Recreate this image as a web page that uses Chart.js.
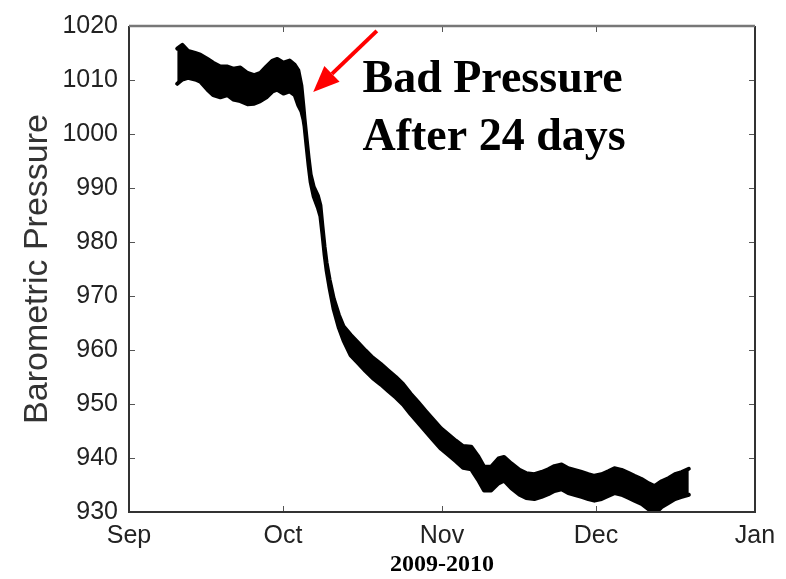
<!DOCTYPE html>
<html>
<head>
<meta charset="utf-8">
<script src="https://cdn.jsdelivr.net/npm/chart.js@4.4.1/dist/chart.umd.min.js"></script>
<style>
  html, body { margin: 0; padding: 0; background: #ffffff; }
  #wrap { width: 786px; height: 579px; position: relative; }
</style>
</head>
<body>
<div id="wrap"><canvas id="c" width="786" height="579"></canvas></div>
<script>
// ---- data (days since 1 Sep 2009) ----
const sampleDay = [
  9.4, 10.4, 11.5, 12.9, 13.9, 15.3, 16.4, 17.8, 19.2, 20.3,
  21.7, 23.1, 24.4, 25.6, 26.8, 28.0, 28.9, 30.1, 31.3, 32.3,
  33.0, 33.6, 34.0, 34.2, 34.6, 35.0, 35.4, 36.0, 36.8, 37.3,
  37.7, 38.1, 38.5, 39.1, 39.9, 40.9, 41.8, 43.2, 44.6, 46.1,
  47.5, 49.1, 50.4, 52.0, 53.4, 54.9, 56.3, 57.9, 59.2, 60.8,
  62.2, 63.7, 65.1, 66.7, 68.0, 69.2, 70.6, 72.0, 73.1, 74.5,
  76.1, 77.4, 79.0, 80.4, 81.7, 82.9, 84.3, 85.6, 86.8, 88.2,
  89.5, 90.7, 92.1, 93.5, 94.6, 96.0, 97.4, 98.5, 99.9, 101.3,
  102.4, 103.8, 105.2, 106.4, 107.7, 109.1
];
const pressureHigh = [
  1015.8, 1016.5, 1015.4, 1015.0, 1014.7, 1013.9, 1013.2, 1012.5, 1012.5, 1012.1,
  1012.3, 1011.3, 1010.9, 1011.3, 1012.5, 1013.6, 1013.9, 1013.2, 1013.6, 1012.8,
  1011.8, 1008.9, 1005.0, 1002.9, 999.2, 995.6, 992.5, 990.2, 988.6, 986.8,
  982.9, 979.2, 976.2, 973.0, 969.5, 966.5, 964.4, 962.8, 961.4, 959.9,
  958.6, 957.4, 956.3, 955.0, 953.7, 951.9, 950.4, 948.6, 947.2, 945.5,
  944.4, 943.2, 942.2, 942.1, 940.4, 938.4, 938.4, 939.9, 940.2, 939.0,
  937.8, 937.2, 937.0, 937.4, 937.9, 938.5, 938.8, 938.1, 937.8, 937.4,
  937.0, 936.7, 937.0, 937.6, 938.1, 937.8, 937.2, 936.7, 936.1, 935.3,
  934.8, 935.7, 936.3, 937.0, 937.4, 938.0
];
const pressureLow = [
  1009.3, 1010.1, 1010.4, 1010.1, 1009.7, 1008.2, 1007.2, 1006.8, 1007.2, 1006.4,
  1006.1, 1005.5, 1005.6, 1006.1, 1006.8, 1007.9, 1008.2, 1007.5, 1007.9, 1007.2,
  1005.3, 1004.2, 1002.7, 1001.5, 997.8, 994.2, 991.1, 988.4, 986.4, 984.8,
  981.5, 977.8, 974.8, 971.4, 967.5, 964.1, 961.8, 959.0, 957.6, 956.1,
  954.8, 953.6, 952.5, 951.2, 949.9, 948.1, 946.6, 944.8, 943.4, 941.7,
  940.6, 939.4, 938.2, 937.9, 936.0, 934.0, 934.0, 935.3, 935.8, 934.4,
  933.2, 932.6, 932.4, 932.8, 933.3, 933.9, 934.2, 933.5, 933.2, 932.8,
  932.4, 932.1, 932.4, 933.0, 933.5, 933.2, 932.6, 932.1, 931.5, 930.5,
  929.6, 930.9, 931.7, 932.4, 932.8, 933.2
];
const monthTickDays = [0, 30, 61, 91, 122];
const monthTickLabels = ['Sep', 'Oct', 'Nov', 'Dec', 'Jan'];
const pressureTicks = [930, 940, 950, 960, 970, 980, 990, 1000, 1010, 1020];
const xAxisTitle = '2009-2010';
const yAxisTitle = 'Barometric Pressure';
const noteLines = ['Bad Pressure', 'After 24 days'];

// ---- helpers ----
const highPts = sampleDay.map((d, i) => ({ x: d, y: pressureHigh[i] }));
const lowPts = sampleDay.map((d, i) => ({ x: d, y: pressureLow[i] }));

const framePlugin = {
  id: 'frame',
  afterDraw(chart) {
    const { ctx, chartArea: a, scales: { x, y } } = chart;
    ctx.save();
    // inward tick marks
    ctx.strokeStyle = '#555';
    ctx.lineWidth = 1;
    ctx.beginPath();
    monthTickDays.forEach(d => {
      const px = Math.round(x.getPixelForValue(d)) + 0.5;
      ctx.moveTo(px, a.bottom); ctx.lineTo(px, a.bottom - 6);
      ctx.moveTo(px, a.top); ctx.lineTo(px, a.top + 6);
    });
    pressureTicks.forEach(v => {
      const py = Math.round(y.getPixelForValue(v)) + 0.5;
      ctx.moveTo(a.left, py); ctx.lineTo(a.left + 6, py);
      ctx.moveTo(a.right, py); ctx.lineTo(a.right - 6, py);
    });
    ctx.stroke();
    // frame
    ctx.lineWidth = 2;
    ctx.strokeStyle = '#333';
    ctx.beginPath();
    ctx.moveTo(a.left, a.top); ctx.lineTo(a.left, a.bottom);
    ctx.lineTo(a.right, a.bottom); ctx.lineTo(a.right, a.top);
    ctx.stroke();
    ctx.strokeStyle = '#777';
    ctx.lineWidth = 2.5;
    ctx.beginPath();
    ctx.moveTo(a.left, a.top); ctx.lineTo(a.right, a.top);
    ctx.stroke();

    // red arrow
    const tx = x.getPixelForValue(35.9), ty = y.getPixelForValue(1007.8);
    const sx = x.getPixelForValue(48.3), sy = y.getPixelForValue(1019.1);
    const ang = Math.atan2(ty - sy, tx - sx);
    const headLen = 26, headHalf = 11;
    const bx = tx - headLen * Math.cos(ang), by = ty - headLen * Math.sin(ang);
    ctx.strokeStyle = '#ff0000';
    ctx.fillStyle = '#ff0000';
    ctx.lineWidth = 4;
    ctx.beginPath();
    ctx.moveTo(sx, sy); ctx.lineTo(bx, by);
    ctx.stroke();
    ctx.beginPath();
    ctx.moveTo(tx, ty);
    ctx.lineTo(bx + headHalf * Math.sin(ang), by - headHalf * Math.cos(ang));
    ctx.lineTo(bx - headHalf * Math.sin(ang), by + headHalf * Math.cos(ang));
    ctx.closePath();
    ctx.fill();

    // annotation text
    ctx.fillStyle = '#000';
    ctx.font = 'bold 46px "Liberation Serif", "Times New Roman", serif';
    ctx.textAlign = 'left';
    ctx.textBaseline = 'alphabetic';
    const lx = x.getPixelForValue(45.5);
    ctx.fillText(noteLines[0], lx, y.getPixelForValue(1007.8));
    ctx.fillText(noteLines[1], lx, y.getPixelForValue(997.1));
    ctx.restore();
  }
};

new Chart(document.getElementById('c'), {
  type: 'line',
  data: {
    datasets: [
      {
        data: highPts,
        borderColor: '#000',
        backgroundColor: '#000',
        borderWidth: 4,
        pointRadius: 0,
        fill: false,
        tension: 0,
        borderJoinStyle: 'round',
        borderCapStyle: 'round'
      },
      {
        data: lowPts,
        borderColor: '#000',
        backgroundColor: '#000',
        borderWidth: 4,
        pointRadius: 0,
        fill: '-1',
        tension: 0,
        borderJoinStyle: 'round',
        borderCapStyle: 'round'
      }
    ]
  },
  options: {
    responsive: false,
    animation: false,
    events: [],
    layout: { padding: { top: 16, right: 31, left: 0, bottom: 0 } },
    plugins: { legend: { display: false }, tooltip: { enabled: false } },
    scales: {
      x: {
        type: 'linear',
        min: 0,
        max: 122,
        afterBuildTicks(scale) { scale.ticks = monthTickDays.map(v => ({ value: v })); },
        afterFit(scale) { scale.height = 67; },
        grid: { display: false, drawTicks: false },
        border: { display: false },
        ticks: {
          autoSkip: false,
          maxRotation: 0,
          padding: 9,
          color: '#222',
          font: { family: '"Liberation Sans", Arial, sans-serif', size: 25 },
          callback(v) { const i = monthTickDays.indexOf(v); return i >= 0 ? monthTickLabels[i] : ''; }
        },
        title: {
          display: true,
          text: xAxisTitle,
          color: '#000',
          font: { family: '"Liberation Serif", "Times New Roman", serif', size: 24, weight: 'bold' },
          padding: { top: 0, bottom: 0 }
        }
      },
      y: {
        min: 930,
        max: 1020,
        afterBuildTicks(scale) { scale.ticks = pressureTicks.map(v => ({ value: v })); },
        afterFit(scale) { scale.width = 129; },
        grid: { display: false, drawTicks: false },
        border: { display: false },
        ticks: {
          padding: 11,
          color: '#222',
          font: { family: '"Liberation Sans", Arial, sans-serif', size: 25 },
          callback(v) { return String(v); }
        },
        title: {
          display: true,
          text: yAxisTitle,
          color: '#333',
          font: { family: '"Liberation Sans", Arial, sans-serif', size: 34 },
          padding: { top: 17, bottom: 0 }
        }
      }
    }
  },
  plugins: [framePlugin]
});
</script>
</body>
</html>
